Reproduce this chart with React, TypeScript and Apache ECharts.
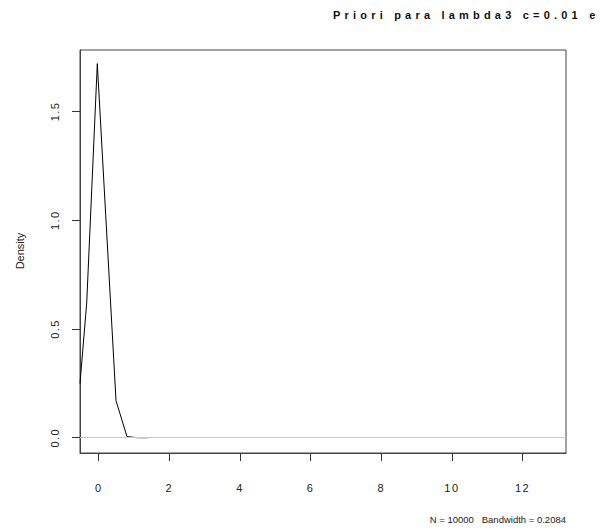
import React, { useEffect, useRef } from "react";
import * as echarts from "echarts";

const densityX = [-0.53, -0.34, -0.04, 0.49, 0.8, 1.1, 1.4];
const densityY = [0.25, 0.62, 1.72, 0.17, 0.005, 0.0, 0.0];
const xTicks = [0, 2, 4, 6, 8, 10, 12];
const yTicks = [0, 0.5, 1.0, 1.5];
const titleText = "Priori para lambda3 c=0.01 e";
const subText = "N = 10000   Bandwidth = 0.2084";
const yName = "Density";

export default function App() {
  const ref = useRef<HTMLDivElement>(null);
  useEffect(() => {
    if (!ref.current) return;
    const el = ref.current;
    const chart = echarts.init(el, null, { renderer: "svg" });
    const font = "Liberation Sans";
    const spacing = () => {
      el.querySelectorAll("text").forEach((t) => {
        const s = t.textContent || "";
        if (s === titleText) t.setAttribute("letter-spacing", "4.2px");
        else if (/^\d/.test(s)) t.setAttribute("letter-spacing", "1.5px");
      });
    };
    chart.on("finished", spacing);
    chart.setOption({
      animation: false,
      backgroundColor: "#ffffff",
      grid: {
        left: 80,
        top: 50,
        width: 486,
        height: 403,
        show: true,
        borderColor: "#444",
        borderWidth: 1,
        backgroundColor: "transparent",
      },
      xAxis: {
        type: "value",
        min: -0.53,
        max: 13.23,
        axisLine: { show: true, onZero: false, lineStyle: { color: "#444", width: 1 } },
        axisTick: {
          show: true,
          customValues: xTicks,
          length: 8,
          lineStyle: { color: "#333" },
        },
        axisLabel: {
          customValues: xTicks,
          margin: 29,
          color: "#222",
          fontSize: 11,
          fontFamily: font,
          formatter: (v: number) => String(v),
        },
        splitLine: { show: false },
      },
      yAxis: {
        type: "value",
        min: -0.0703,
        max: 1.7826,
        axisLine: { show: true, onZero: false, lineStyle: { color: "#444", width: 1 } },
        axisTick: {
          show: true,
          customValues: yTicks,
          length: 8,
          lineStyle: { color: "#333" },
        },
        axisLabel: {
          customValues: yTicks,
          rotate: 90,
          margin: 20,
          color: "#222",
          fontSize: 11,
          fontFamily: font,
          formatter: (v: number) => v.toFixed(1),
        },
        splitLine: { show: false },
      },
      graphic: [
        {
          type: "text",
          left: 333,
          top: 9,
          style: {
            text: titleText,
            font: "bold 11px 'Liberation Sans'",
            fill: "#111",
          },
        },
        {
          type: "text",
          right: 37,
          top: 514,
          style: {
            text: subText,
            font: "9.5px 'Liberation Sans'",
            fill: "#222",
          },
        },
        {
          type: "text",
          x: 20,
          y: 251,
          rotation: Math.PI / 2,
          style: {
            text: yName,
            font: "11px 'Liberation Sans'",
            fill: "#222",
            align: "center",
            verticalAlign: "middle",
          },
        },
      ],
      series: [
        {
          type: "line",
          data: densityX.map((x, i) => [x, densityY[i]]),
          symbol: "none",
          lineStyle: { color: "#000", width: 1 },
          clip: true,
          markLine: {
            silent: true,
            symbol: "none",
            label: { show: false },
            lineStyle: { color: "#c8c8c8", type: "solid", width: 1 },
            data: [{ yAxis: 0 }],
          },
          z: 3,
        },
      ],
    });
    spacing();
    return () => chart.dispose();
  }, []);
  return (
    <div
      ref={ref}
      style={{ position: "fixed", left: 0, top: 0, width: 603, height: 531 }}
    />
  );
}
